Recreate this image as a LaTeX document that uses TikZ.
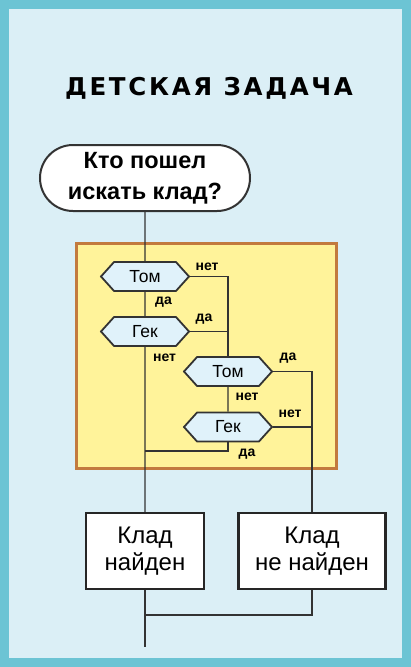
\documentclass[tikz,border=0pt]{standalone}
\usepackage{fontspec}
\setmainfont{Liberation Sans}
\newfontfamily\titelfont[LetterSpace=11]{DejaVu Sans Bold}
\usepackage{tikz}
\usetikzlibrary{shapes.symbols,shapes.misc}
\definecolor{rahmen}{HTML}{6CC4D4}
\definecolor{grund}{HTML}{DBEFF6}
\definecolor{gelb}{HTML}{FFF39A}
\definecolor{braun}{HTML}{C27A3E}
\definecolor{hexblau}{HTML}{E0F2FA}
\definecolor{linie}{HTML}{333333}
\tikzset{
  linie/.style={draw=linie,line width=1.3pt},
  start/.style={rounded rectangle,draw=linie,line width=2pt,fill=white,
    minimum width=210pt,minimum height=66pt,inner sep=0pt,align=center,
    font=\fontsize{23.5}{31}\selectfont\bfseries},
  frage/.style={signal,signal to=west and east,signal pointer angle=96,
    draw=linie,line width=1.8pt,fill=hexblau,minimum width=88pt,
    minimum height=29pt,inner sep=0pt,font=\fontsize{17.5}{20}\selectfont},
  ergebnis/.style={rectangle,draw=black!85,line width=2.5pt,fill=white,
    minimum height=76pt,inner sep=0pt,align=center,
    font=\fontsize{24}{27}\selectfont},
  antw/.style={inner sep=0pt,font=\fontsize{14}{16}\selectfont\bfseries}
}
\begin{document}
\begin{tikzpicture}[x=1pt,y=-1pt]
\useasboundingbox (0,0) rectangle (411,667);
% Rahmen
\fill[rahmen] (0,0) rectangle (411,667);
\fill[grund] (9,9) rectangle (402,658);
\node (titel) at (209,88.5) {\titelfont\fontsize{24.5}{27}\selectfont ДЕТСКАЯ ЗАДАЧА};
% Schleife
\draw[braun,line width=3pt,fill=gelb] (76.5,243.5) rectangle (336.5,468.5);
% Knoten
\node[start] (frage0) at (145,178) {Кто пошел\\искать клад?};
\node[frage] (tom1) at (145,276.5) {Том};
\node[frage] (gek1) at (145,331.5) {Гек};
\node[frage] (tom2) at (228,371.5) {Том};
\node[frage] (gek2) at (228,427) {Гек};
\node[ergebnis,minimum width=118pt] (ja) at (145,551) {Клад\\найден};
\node[ergebnis,minimum width=147pt] (nein) at (312,551) {Клад\\не найден};
\coordinate (treff1) at (145,451);
\coordinate (treff2) at (145,615);
\coordinate (ende) at (145,647);
% Verbindungen
\draw[linie] (frage0) -- (tom1);
\draw[linie] (tom1) -- (gek1);
\draw[linie] (gek1) -- (ja);
\draw[linie] (tom1.east) -| (tom2.north);
\draw[linie] (gek1.east) -- (tom2.north |- gek1.east);
\draw[linie] (tom2) -- (gek2);
\draw[linie] (tom2.east) -| (nein.north);
\draw[linie] (gek2.east) -- (nein.north |- gek2.east);
\draw[linie] (gek2.south) |- (treff1);
\draw[linie] (ja) -- (ende);
\draw[linie] (nein.south) |- (treff2);
% Antworten
\node[antw] (a1) at (207,267) {нет};
\node[antw] (a2) at (163.5,302) {да};
\node[antw] (a3) at (204,319) {да};
\node[antw] (a4) at (164.5,358) {нет};
\node[antw] (a5) at (288,358) {да};
\node[antw] (a6) at (247,397) {нет};
\node[antw] (a7) at (290,414) {нет};
\node[antw] (a8) at (247,454) {да};
\end{tikzpicture}
\end{document}
